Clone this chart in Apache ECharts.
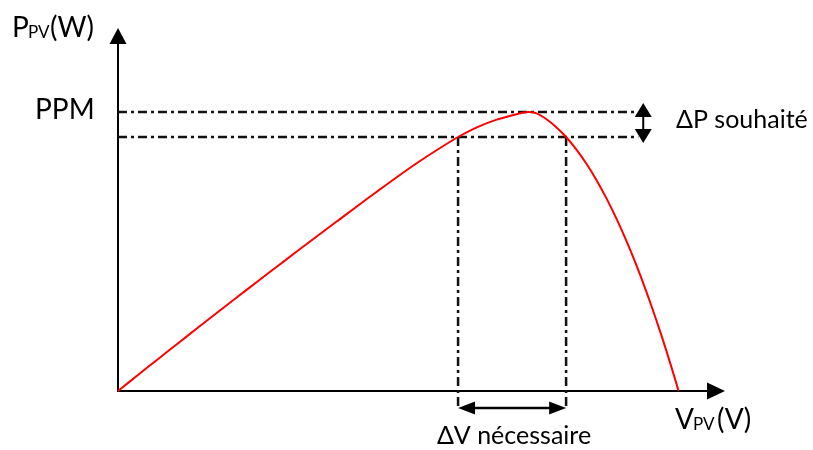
<!DOCTYPE html>
<html>
<head>
<meta charset="utf-8">
<script src="https://cdn.jsdelivr.net/npm/echarts@6/dist/echarts.min.js"></script>
<style>
  html, body { margin: 0; padding: 0; background: #fff; }
  #chart { width: 813px; height: 450px; }
</style>
</head>
<body>
<div id="chart"></div>
<script>
// P-V characteristic of a PV panel (arbitrary units: volts / watts)
const vAxisMax = 30;
const pAxisMax = 60;
const voltage = [0, 1, 2, 3, 4, 5, 6, 7, 8, 9, 10, 11, 12, 13, 14, 15, 16, 17.06, 18, 19, 20, 20.57, 21, 21.5, 22, 22.48, 23, 23.5, 24, 24.5, 25, 25.5, 26, 26.5, 27, 27.5, 28, 28.12];
const power   = [0, 2.70, 5.38, 8.04, 10.68, 13.31, 15.92, 18.52, 21.09, 23.65, 26.20, 28.72, 31.23, 33.73, 36.17, 38.53, 40.73, 42.93, 44.57, 45.87, 46.79, 47.15, 46.92, 45.92, 44.54, 42.93, 40.80, 38.40, 35.68, 32.60, 29.17, 25.40, 21.30, 16.85, 12.05, 6.90, 1.42, 0];

// Maximum power point and the tolerated power band around it
const ppm = 47.15;
const pTarget = 42.93;
const vLow = 17.06;
const vHigh = 22.48;
const guideEnd = 26.1;     // where the horizontal guides stop
const deltaPAt = 26.35;    // voltage where the ΔP arrow is drawn

const curve = voltage.map((v, i) => [v, power[i]]);

const FONT = 'Lato, "Noto Sans", sans-serif';
const INK = '#000';
const GUIDE = '#111';
const DASH = [9, 4, 3, 4];

function arrowHead(tip, dir, len, half) {
  // dir: unit vector pointing toward the tip
  const bx = tip[0] - dir[0] * len, by = tip[1] - dir[1] * len;
  const nx = -dir[1], ny = dir[0];
  return {
    type: 'polygon',
    shape: { points: [tip, [bx + nx * half, by + ny * half], [bx - nx * half, by - ny * half]] },
    style: { fill: INK }
  };
}

function renderGuides(params, api) {
  const c = (v, p) => api.coord([v, p]);
  const origin = c(0, 0);
  const children = [];
  const dashed = (a, b) => ({
    type: 'line',
    shape: { x1: a[0], y1: a[1], x2: b[0], y2: b[1] },
    style: { stroke: GUIDE, lineWidth: 2.5, lineDash: DASH }
  });
  // horizontal guides at PPM and at the lower power limit
  children.push(dashed(c(0, ppm), c(guideEnd, ppm)));
  children.push(dashed(c(0, pTarget), c(guideEnd, pTarget)));
  // vertical guides from the curve down below the voltage axis
  const arrowY = origin[1] + 17;
  const lo = c(vLow, pTarget), hi = c(vHigh, pTarget);
  children.push(dashed(lo, [lo[0], arrowY]));
  children.push(dashed(hi, [hi[0], arrowY]));

  // ΔV double arrow
  children.push({
    type: 'line',
    shape: { x1: lo[0] + 10, y1: arrowY, x2: hi[0] - 10, y2: arrowY },
    style: { stroke: INK, lineWidth: 2.5 }
  });
  children.push(arrowHead([lo[0], arrowY], [-1, 0], 17, 6.5));
  children.push(arrowHead([hi[0], arrowY], [1, 0], 17, 6.5));

  // ΔP double arrow
  const top = c(deltaPAt, ppm), bot = c(deltaPAt, pTarget);
  const tTip = [top[0], top[1] - 9], bTip = [bot[0], bot[1] + 6];
  children.push({
    type: 'line',
    shape: { x1: tTip[0], y1: tTip[1] + 10, x2: bTip[0], y2: bTip[1] - 10 },
    style: { stroke: INK, lineWidth: 2 }
  });
  children.push(arrowHead(tTip, [0, -1], 14, 8.5));
  children.push(arrowHead(bTip, [0, 1], 14, 8.5));

  return { type: 'group', children };
}

function txt(text, x, y, size, align) {
  return {
    type: 'text',
    x, y,
    style: { text, fill: INK, font: size + 'px ' + FONT, textAlign: align || 'left', textVerticalAlign: 'bottom' },
    silent: true
  };
}

const chart = echarts.init(document.getElementById('chart'), null, { renderer: 'canvas' });
chart.setOption({
  animation: false,
  backgroundColor: '#fff',
  grid: { left: 118, right: 97, top: 36, bottom: 59 },
  xAxis: {
    type: 'value', min: 0, max: vAxisMax,
    axisLine: { show: true, symbol: ['none', 'triangle'], symbolSize: [17, 18], lineStyle: { color: INK, width: 2 } },
    axisTick: { show: false }, axisLabel: { show: false }, splitLine: { show: false }
  },
  yAxis: {
    type: 'value', min: 0, max: pAxisMax,
    axisLine: { show: true, symbol: ['none', 'triangle'], symbolSize: [17, 16], lineStyle: { color: INK, width: 2 } },
    axisTick: { show: false }, axisLabel: { show: false }, splitLine: { show: false }
  },
  series: [
    {
      type: 'custom',
      renderItem: renderGuides,
      data: [[0, 0]],
      clip: false,
      silent: true,
      z: 1
    },
    {
      type: 'line',
      data: curve,
      smooth: 0.25,
      symbol: 'none',
      lineStyle: { color: '#ff0000', width: 2 },
      silent: true,
      z: 3
    }
  ],
  graphic: [
    txt('P', 12, 42, 28),
    txt('PV', 28, 41, 17),
    txt('(W)', 50, 42, 28),
    txt('PPM', 35, 124, 28),
    txt('ΔP souhaité', 676, 132, 25),
    txt('V', 675, 434, 28),
    txt('PV', 693, 433, 17),
    txt('(V)', 717, 434, 28),
    txt('ΔV nécessaire', 514, 448, 25, 'center')
  ]
});
</script>
</body>
</html>
